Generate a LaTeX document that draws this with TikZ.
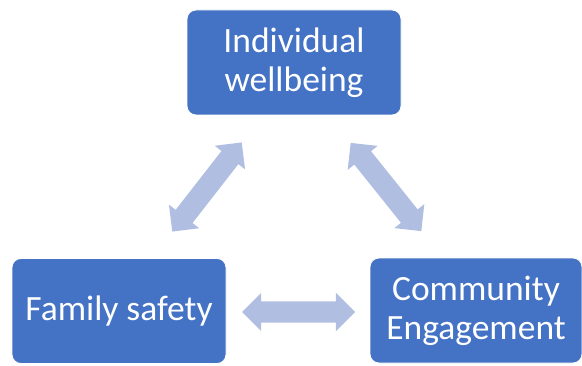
\documentclass[tikz,border=0pt]{standalone}
\usepackage{fontspec}
\setmainfont{Carlito}
\usetikzlibrary{shapes.arrows}
\definecolor{boxblue}{HTML}{4472C4}
\definecolor{arrowblue}{HTML}{B0BEE2}
\tikzset{
  bluebox/.style={rectangle, rounded corners=9pt, fill=boxblue, draw=white, line width=0.8pt,
    minimum width=214pt, minimum height=105pt, inner sep=0pt, align=center,
    text=white, font=\fontsize{35.5}{39}\selectfont},
  blockarrow/.style={double arrow, fill=arrowblue, draw=none, inner xsep=0pt, inner ysep=10.5pt,
    minimum height=113pt, double arrow head extend=8.5pt, double arrow tip angle=90}
}
\begin{document}
\begin{tikzpicture}[x=1pt,y=1pt]
\useasboundingbox (0,0) rectangle (582,365);
\node[bluebox] (ind) at (294,302.5) {Individual\\wellbeing};
\node[bluebox] (fam) at (119,54) {Family safety};
\node[bluebox, minimum width=212pt] (com) at (476,54.5) {Community\\Engagement};
\node[blockarrow, rotate=52.1] (a1) at (207,178) {};
\node[blockarrow, rotate=-51.3] (a2) at (386,178) {};
\node[blockarrow] (a3) at (298.5,53) {};
\end{tikzpicture}
\end{document}
